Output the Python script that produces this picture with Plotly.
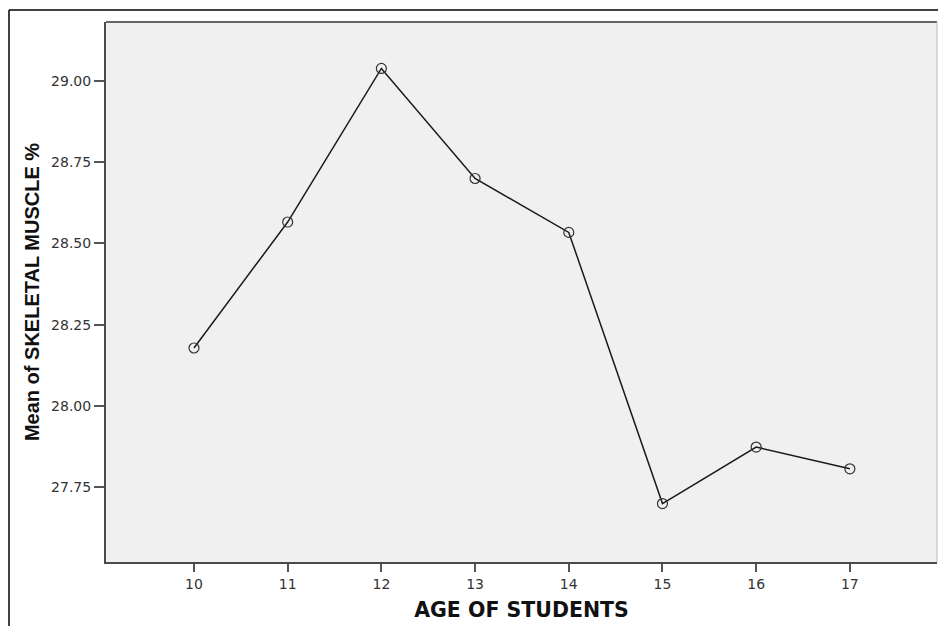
import plotly.graph_objects as go

ages = [10, 11, 12, 13, 14, 15, 16, 17]
mean_skeletal_muscle = [28.178, 28.566, 29.039, 28.700, 28.534, 27.699, 27.873, 27.806]
y_ticks = [27.75, 28.00, 28.25, 28.50, 28.75, 29.00]
y_tick_labels = ["27.75", "28.00", "28.25", "28.50", "28.75", "29.00"]

fig = go.Figure()
fig.add_trace(go.Scatter(
    x=ages, y=mean_skeletal_muscle, mode="lines+markers",
    line=dict(color="#1a1a1a", width=1.5),
    marker=dict(symbol="circle-open", size=10, color="#333333", line=dict(width=1.2, color="#333333")),
    showlegend=False, hoverinfo="skip"))

tick_font = "DejaVu Sans, Verdana, sans-serif"

fig.update_layout(
    width=938, height=626,
    margin=dict(l=106, r=1, t=22, b=64),
    paper_bgcolor="white", plot_bgcolor="#F0F0F0",
    font=dict(family=tick_font, color="#333333", size=14),
    xaxis=dict(range=[9.061, 17.93], tickmode="array", tickvals=ages,
               ticktext=[str(a) for a in ages],
               showgrid=False, zeroline=False, showline=True, linecolor="#4a4a4a", linewidth=2,
               ticks="outside", ticklen=8, tickwidth=2, tickcolor="#555555",
               tickfont=dict(family=tick_font, size=14, color="#333333"),
               title=dict(text="<b>AGE OF STUDENTS</b>",
                          font=dict(family="DejaVu Sans, sans-serif", size=20.5, color="#111111"),
                          standoff=12)),
    yaxis=dict(range=[27.519, 29.182], tickmode="array", tickvals=y_ticks, ticktext=y_tick_labels,
               showgrid=False, zeroline=False, showline=True, linecolor="#4a4a4a", linewidth=2,
               ticks="outside", ticklen=10, tickwidth=2, tickcolor="#555555",
               tickfont=dict(family=tick_font, size=14, color="#333333"),
               title=dict(text="<b>Mean of SKELETAL MUSCLE %</b>",
                          font=dict(family="Liberation Sans, Arial, sans-serif", size=20, color="#111111"),
                          standoff=6)),
)

W = 831.0
H = 540.0
# top and right frame of plot area
fig.add_shape(type="line", xref="paper", yref="paper", x0=0, x1=1, y0=1, y1=1,
              line=dict(color="#666666", width=2))
fig.add_shape(type="line", xref="paper", yref="paper", x0=1, x1=1, y0=0, y1=1,
              line=dict(color="#bbbbbb", width=1))
# outer frame (top at y=10, left at x=9)
fig.add_shape(type="line", xref="paper", yref="paper",
              x0=(9 - 106) / W, x1=(940 - 106) / W, y0=(562 - 10) / H, y1=(562 - 10) / H,
              line=dict(color="black", width=1.5))
fig.add_shape(type="line", xref="paper", yref="paper",
              x0=(9 - 106) / W, x1=(9 - 106) / W, y0=(562 - 10) / H, y1=(562 - 630) / H,
              line=dict(color="black", width=1.5))

fig.write_html("out.html", config={"displayModeBar": False},
               post_script="document.body.style.margin='0';document.body.style.overflow='hidden';")
